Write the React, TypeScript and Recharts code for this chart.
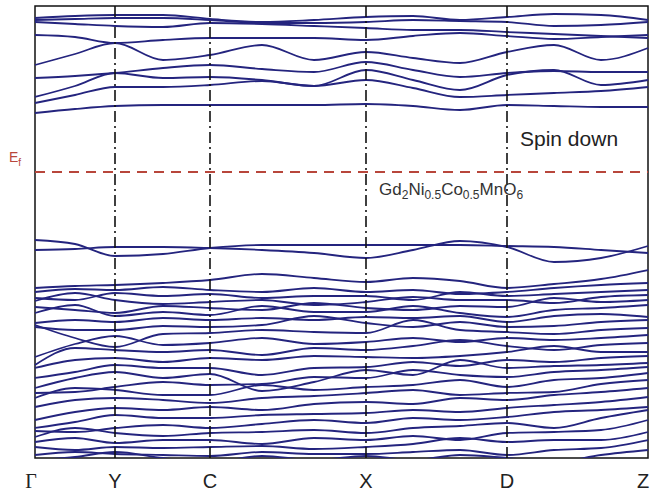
import React from 'react';
import { LineChart, Line, XAxis, YAxis, ReferenceLine, ReferenceArea } from 'recharts';

// k-path distance (arbitrary units), high symmetry points + sample points between them
const kPath = [0, 40, 80, 128, 175, 227, 279, 331, 378, 425, 472, 519, 566, 613];
const symPoints = [0, 80, 175, 331, 472, 613];
const symLabels = ['Γ', 'Y', 'C', 'X', 'D', 'Z'];

// conduction bands (eV, relative to Ef)
const c1 = [0.59, 0.63, 0.66, 0.67, 0.67, 0.67, 0.67, 0.68, 0.66, 0.62, 0.67, 0.66, 0.65, 0.65];
const c2 = [0.69, 0.77, 0.85, 0.85, 0.87, 0.91, 0.86, 0.92, 0.84, 0.75, 0.77, 0.79, 0.81, 0.85];
const c3 = [0.75, 0.86, 0.99, 0.94, 0.95, 0.92, 0.86, 1.02, 0.92, 0.82, 0.97, 1.02, 0.87, 0.92];
const c4 = [0.94, 0.96, 0.99, 1.04, 1.07, 1.03, 1.0, 1.1, 1.02, 0.95, 0.99, 1.01, 1.0, 1.0];
const c5 = [1.07, 1.18, 1.29, 1.12, 1.17, 1.27, 1.12, 1.2, 1.14, 1.09, 1.2, 1.27, 1.12, 1.24];
const c6 = [1.37, 1.35, 1.29, 1.32, 1.34, 1.34, 1.34, 1.32, 1.36, 1.39, 1.36, 1.33, 1.35, 1.37];
const c7 = [1.5, 1.48, 1.46, 1.45, 1.49, 1.48, 1.46, 1.44, 1.42, 1.42, 1.4, 1.38, 1.36, 1.34];
const c8 = [1.52, 1.53, 1.54, 1.54, 1.52, 1.49, 1.49, 1.5, 1.52, 1.51, 1.5, 1.46, 1.47, 1.5];
const c9 = [1.54, 1.56, 1.57, 1.57, 1.53, 1.5, 1.52, 1.55, 1.56, 1.52, 1.55, 1.58, 1.57, 1.52];

// isolated valence bands just under the gap
const v1 = [-0.68, -0.72, -0.84, -0.82, -0.76, -0.73, -0.73, -0.73, -0.73, -0.73, -0.74, -0.75, -0.78, -0.81];
const v2 = [-0.78, -0.77, -0.75, -0.75, -0.76, -0.78, -0.81, -0.86, -0.78, -0.69, -0.75, -0.9, -0.86, -0.74];
const vt = [-1.16, -1.14, -1.13, -1.11, -1.08, -1.02, -1.06, -1.1, -1.06, -1.09, -1.16, -1.12, -1.07, -0.98];

// dense valence manifold
const d1 = [-1.2, -1.17, -1.18, -1.15, -1.18, -1.2, -1.16, -1.2, -1.18, -1.22, -1.2, -1.16, -1.13, -1.11];
const d2 = [-1.26, -1.28, -1.21, -1.24, -1.22, -1.26, -1.24, -1.24, -1.28, -1.2, -1.24, -1.22, -1.2, -1.18];
const d3 = [-1.29, -1.21, -1.28, -1.32, -1.3, -1.28, -1.33, -1.3, -1.25, -1.28, -1.28, -1.31, -1.25, -1.23];
const d4 = [-1.35, -1.38, -1.41, -1.34, -1.36, -1.38, -1.31, -1.36, -1.38, -1.34, -1.35, -1.26, -1.3, -1.28];
const d5 = [-1.41, -1.33, -1.44, -1.4, -1.43, -1.34, -1.4, -1.4, -1.34, -1.41, -1.45, -1.38, -1.36, -1.33];
const d6 = [-1.51, -1.48, -1.5, -1.46, -1.48, -1.46, -1.48, -1.45, -1.46, -1.44, -1.5, -1.44, -1.42, -1.45];
const d7 = [-1.55, -1.58, -1.58, -1.54, -1.55, -1.53, -1.44, -1.51, -1.55, -1.5, -1.55, -1.54, -1.5, -1.48];
const d8 = [-1.53, -1.66, -1.75, -1.62, -1.61, -1.58, -1.6, -1.61, -1.48, -1.58, -1.6, -1.62, -1.58, -1.56];
const d9 = [-1.85, -1.72, -1.64, -1.73, -1.71, -1.66, -1.72, -1.7, -1.66, -1.7, -1.66, -1.68, -1.66, -1.63];
const d10 = [-1.93, -1.76, -1.78, -1.8, -1.78, -1.83, -1.76, -1.78, -1.74, -1.68, -1.74, -1.78, -1.73, -1.71];
const d11 = [-1.96, -1.88, -1.86, -1.9, -1.86, -1.88, -1.84, -1.85, -1.86, -1.84, -1.8, -1.74, -1.8, -1.8];
const d12 = [-2.06, -2.0, -1.93, -1.96, -1.96, -2.03, -1.96, -1.95, -1.9, -1.94, -1.88, -1.9, -1.86, -1.84];
const d13 = [-2.16, -2.06, -2.0, -2.06, -2.02, -2.19, -2.1, -1.98, -2.03, -1.88, -1.96, -1.94, -1.93, -1.91];
const d14 = [-2.21, -2.2, -2.15, -2.1, -2.13, -2.12, -2.05, -2.06, -1.98, -2.03, -2.05, -2.0, -1.98, -1.95];
const d15 = [-2.26, -2.16, -2.18, -2.23, -2.23, -2.13, -2.18, -2.15, -2.13, -2.08, -2.15, -2.08, -2.06, -2.01];
const d16 = [-2.35, -2.28, -2.26, -2.28, -2.31, -2.26, -2.24, -2.21, -2.18, -2.23, -2.21, -2.2, -2.12, -2.08];
const d17 = [-2.48, -2.4, -2.36, -2.38, -2.35, -2.38, -2.32, -2.3, -2.32, -2.26, -2.28, -2.23, -2.2, -2.16];
const d18 = [-2.56, -2.5, -2.43, -2.46, -2.46, -2.43, -2.42, -2.41, -2.38, -2.4, -2.36, -2.33, -2.3, -2.25];
const d19 = [-2.59, -2.6, -2.56, -2.53, -2.56, -2.52, -2.48, -2.51, -2.46, -2.48, -2.45, -2.4, -2.38, -2.35];
const d20 = [-2.65, -2.56, -2.61, -2.64, -2.61, -2.6, -2.58, -2.61, -2.56, -2.54, -2.51, -2.56, -2.46, -2.38];
const d21 = [-2.7, -2.66, -2.71, -2.68, -2.68, -2.72, -2.66, -2.68, -2.64, -2.68, -2.61, -2.6, -2.58, -2.48];
const d22 = [-2.75, -2.78, -2.75, -2.76, -2.75, -2.74, -2.77, -2.75, -2.72, -2.66, -2.7, -2.68, -2.68, -2.6];
const d23 = [-2.83, -2.8, -2.82, -2.83, -2.84, -2.8, -2.82, -2.82, -2.8, -2.78, -2.83, -2.78, -2.76, -2.68];
const d24 = [-2.88, -2.85, -2.8, -2.86, -2.9, -2.84, -2.88, -2.84, -2.88, -2.83, -2.86, -2.9, -2.83, -2.78];

const bands = [
  c1, c2, c3, c4, c5, c6, c7, c8, c9,
  v1, v2, vt,
  d1, d2, d3, d4, d5, d6, d7, d8, d9, d10, d11, d12,
  d13, d14, d15, d16, d17, d18, d19, d20, d21, d22, d23, d24,
];

const E_MIN = -2.86;
const E_MAX = 1.66;

const rows = kPath.map((k, i) => {
  const row: Record<string, number> = { k };
  bands.forEach((b, j) => {
    row['b' + j] = b[i];
  });
  return row;
});

const SANS = '"Liberation Sans", Arial, sans-serif';
const BAND_COLOR = '#24247e';

const KTick = (props: any) => {
  const { x, y, payload } = props;
  const idx = symPoints.indexOf(payload.value);
  const lbl = symLabels[idx] ?? '';
  const isGamma = lbl === 'Γ';
  let dx = 0;
  if (isGamma) dx = -4;
  if (lbl === 'Z') dx = -5;
  return (
    <text
      x={x + dx}
      y={y + 22}
      textAnchor="middle"
      fontSize={20}
      fontFamily={isGamma ? '"Liberation Serif", "Times New Roman", serif' : SANS}
      fill="#222"
    >
      {lbl}
    </text>
  );
};

export default function App() {
  return (
    <div style={{ position: 'absolute', left: 0, top: 0, width: 665, height: 500, background: '#fff' }}>
      <LineChart width={665} height={500} data={rows} margin={{ top: 6, right: 17, bottom: 0, left: 35 }}>
        <XAxis
          dataKey="k"
          type="number"
          domain={[0, 613]}
          ticks={symPoints}
          tick={<KTick />}
          axisLine={false}
          tickLine={false}
          height={42}
          interval={0}
        />
        <YAxis hide type="number" domain={[E_MIN, E_MAX]} allowDataOverflow />
        {bands.map((_, j) => (
          <Line
            key={'b' + j}
            dataKey={'b' + j}
            type="monotone"
            stroke={BAND_COLOR}
            strokeWidth={1.8}
            dot={false}
            isAnimationActive={false}
          />
        ))}
        {symPoints.slice(1, -1).map((p) => (
          <ReferenceLine key={p} x={p} stroke="#111" strokeWidth={1.6} strokeDasharray="11 4 2 4" />
        ))}
        <ReferenceLine y={0} stroke="#b8463b" strokeWidth={2} strokeDasharray="10 7" />
        <ReferenceArea x1={0} x2={613} y1={E_MIN} y2={E_MAX} fill="none" stroke="#111" strokeWidth={1.5} />
      </LineChart>
      <div style={{ position: 'absolute', left: 9, top: 149, color: '#b8463b', fontFamily: SANS, fontSize: 14 }}>
        E<sub style={{ fontSize: 10 }}>f</sub>
      </div>
      <div style={{ position: 'absolute', left: 520, top: 127, color: '#222', fontFamily: SANS, fontSize: 21 }}>
        Spin down
      </div>
      <div style={{ position: 'absolute', left: 379, top: 180, color: '#333', fontFamily: SANS, fontSize: 17 }}>
        Gd<sub style={{ fontSize: 12 }}>2</sub>Ni<sub style={{ fontSize: 12 }}>0.5</sub>Co<sub style={{ fontSize: 12 }}>0.5</sub>MnO<sub style={{ fontSize: 12 }}>6</sub>
      </div>
    </div>
  );
}
